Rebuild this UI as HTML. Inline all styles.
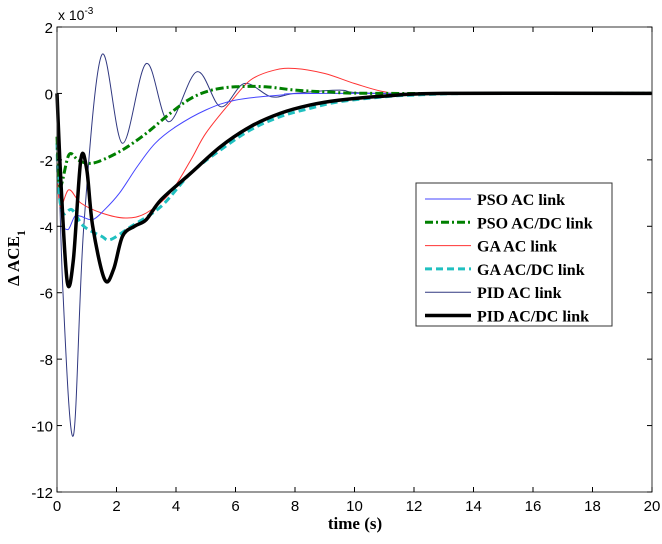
<!DOCTYPE html>
<html><head><meta charset="utf-8"><style>
body{margin:0;background:#fff;}
svg text{font-family:"Liberation Sans",sans-serif;}
</style></head><body>
<svg id="chart" width="662" height="539" xmlns="http://www.w3.org/2000/svg">
<rect width="662" height="539" fill="#fff"/>
<g id="plot"></g>
<g id="axes"></g>
<text x="58" y="20" font-size="14">x 10<tspan dy="-6" font-size="10">-3</tspan></text>
<text x="355" y="529" font-size="17" font-weight="bold" text-anchor="middle" style="font-family:'Liberation Serif',serif">time (s)</text>
<text transform="translate(19,258) rotate(-90)" font-size="17" font-weight="bold" text-anchor="middle" style="font-family:'Liberation Serif',serif">Δ ACE<tspan dy="6" font-size="12">1</tspan></text>
<g id="legend"></g>
</svg>
<script>
const xTicks=[0,2,4,6,8,10,12,14,16,18,20];
const yTicks=[2,0,-2,-4,-6,-8,-10,-12];
const seriesNames=["PSO AC link","PSO AC/DC link","GA AC link","GA AC/DC link","PID AC link","PID AC/DC link"];
const psoAcT=[0,0.15,0.35,0.6,0.8,1.2,1.6,2.1,2.7,3.3,4,5,6,7.5,9,20];
const psoAcY=[0,-3.5,-4.1,-3.7,-3.7,-3.8,-3.5,-3,-2.2,-1.5,-1.0,-0.5,-0.2,-0.05,0,0];
const psoDcT=[0,0.1,0.4,0.7,1,1.4,2.2,3,3.8,4.5,5.2,6,7,8,9,11,20];
const psoDcY=[-1.3,-2.8,-1.85,-2.0,-2.1,-2.05,-1.7,-1.2,-0.6,-0.15,0.1,0.2,0.2,0.1,0.05,0,0];
const gaAcT=[0,0.1,0.4,0.8,1.5,2.3,3,3.8,4.5,5,5.8,6.5,7.3,8,9,10,11,12,20];
const gaAcY=[-2,-3.4,-2.9,-3.3,-3.6,-3.75,-3.6,-3.0,-2,-1.2,-0.3,0.4,0.7,0.75,0.6,0.3,0.05,0,0];
const gaDcT=[0,0.05,0.2,0.5,0.9,1.5,1.8,2.5,3.5,4.5,5.5,6.5,7.5,8.5,9.5,11,12,14,20];
const gaDcY=[-1.5,-2.8,-3.6,-3.5,-4.0,-4.3,-4.4,-4.0,-3.4,-2.4,-1.7,-1.1,-0.7,-0.45,-0.25,-0.1,-0.05,0,0];
const pidAcT=[0,0.2,0.55,0.9,1.5,2.2,3.0,3.75,4.7,5.5,6.3,7.2,8,9.5,11,20];
const pidAcY=[0,-6,-10.3,-4,1.15,-1.5,0.9,-0.85,0.65,-0.4,0.3,-0.1,0,0.1,0,0];
const pidDcT=[0,0.15,0.35,0.55,0.8,1.0,1.2,1.6,1.9,2.2,2.6,3,3.5,4.5,5.5,6.5,7.5,8.5,9.5,11,13,20];
const pidDcY=[0,-3,-5.7,-5.0,-2.0,-2.3,-4.0,-5.6,-5.3,-4.3,-4.0,-3.8,-3.2,-2.4,-1.6,-1.0,-0.6,-0.35,-0.2,-0.08,0,0];

const X0=57,X1=652,Y0=27,Y1=492;
const sx=t=>X0+(t-0)/(20-0)*(X1-X0);
const sy=v=>Y0+(2-v)/(2-(-12))*(Y1-Y0);
const NS="http://www.w3.org/2000/svg";
function mk(tag,attrs,parent){const e=document.createElementNS(NS,tag);for(const k in attrs)e.setAttribute(k,attrs[k]);parent.appendChild(e);return e;}
function pathD(T,Y){
  const P=T.map((t,i)=>[sx(t),sy(Y[i])]);
  let d="M"+P[0][0].toFixed(1)+","+P[0][1].toFixed(1);
  for(let i=0;i<P.length-1;i++){
    const p0=P[Math.max(0,i-1)],p1=P[i],p2=P[i+1],p3=P[Math.min(P.length-1,i+2)];
    const c1=[p1[0]+(p2[0]-p0[0])/6,p1[1]+(p2[1]-p0[1])/6];
    const c2=[p2[0]-(p3[0]-p1[0])/6,p2[1]-(p3[1]-p1[1])/6];
    d+=" C"+c1[0].toFixed(1)+","+c1[1].toFixed(1)+" "+c2[0].toFixed(1)+","+c2[1].toFixed(1)+" "+p2[0].toFixed(1)+","+p2[1].toFixed(1);
  }
  return d;
}
const styles=[
 {c:"#4444ff",w:1,da:""},
 {c:"#008000",w:3,da:"8,3,2,3"},
 {c:"#ff3333",w:1,da:""},
 {c:"#20c0c0",w:3,da:"7,4"},
 {c:"#303880",w:1,da:""},
 {c:"#000",w:3.5,da:""}];
const data=[[psoAcT,psoAcY],[psoDcT,psoDcY],[gaAcT,gaAcY],[gaDcT,gaDcY],[pidAcT,pidAcY],[pidDcT,pidDcY]];
const plot=document.getElementById("plot");
const order=[4,2,0,3,1,5];
order.forEach(i=>{
  const p=mk("path",{d:pathD(data[i][0],data[i][1]),fill:"none",stroke:styles[i].c,"stroke-width":styles[i].w,"stroke-dasharray":styles[i].da,"stroke-linejoin":"round"},plot);
  
  
});
const ax=document.getElementById("axes");
const fr=mk("rect",{x:X0,y:Y0,width:X1-X0,height:Y1-Y0,fill:"none",stroke:"#333","stroke-width":1},ax);


xTicks.forEach(t=>{
  const x=sx(t);
  mk("line",{x1:x,y1:Y1,x2:x,y2:Y1-5,stroke:"#000"},ax);
  mk("line",{x1:x,y1:Y0,x2:x,y2:Y0+5,stroke:"#000"},ax);
  const tx=mk("text",{x:x,y:Y1+19,"font-size":15,"text-anchor":"middle"},ax);
  tx.textContent=t;
  
  
});
yTicks.forEach(v=>{
  const y=sy(v);
  mk("line",{x1:X0,y1:y,x2:X0+5,y2:y,stroke:"#000"},ax);
  mk("line",{x1:X1,y1:y,x2:X1-5,y2:y,stroke:"#000"},ax);
  const tx=mk("text",{x:X0-4,y:y+6,"font-size":15,"text-anchor":"end"},ax);
  tx.textContent=v;
  
  
});
const lg=document.getElementById("legend");
mk("rect",{x:416,y:183,width:196,height:143,fill:"#fff",stroke:"#333","stroke-width":1},lg);
seriesNames.forEach((n,i)=>{
  const y=199+i*23.3;
  const l=mk("line",{x1:425,y1:y,x2:471,y2:y,stroke:styles[i].c,"stroke-width":styles[i].w,"stroke-dasharray":styles[i].da},lg);
  
  
  const t=mk("text",{x:477,y:y+6,"font-size":16,"font-weight":"bold",style:"font-family:'Liberation Serif',serif"},lg);
  t.textContent=n;
  
  
});
</script>
</body></html>
